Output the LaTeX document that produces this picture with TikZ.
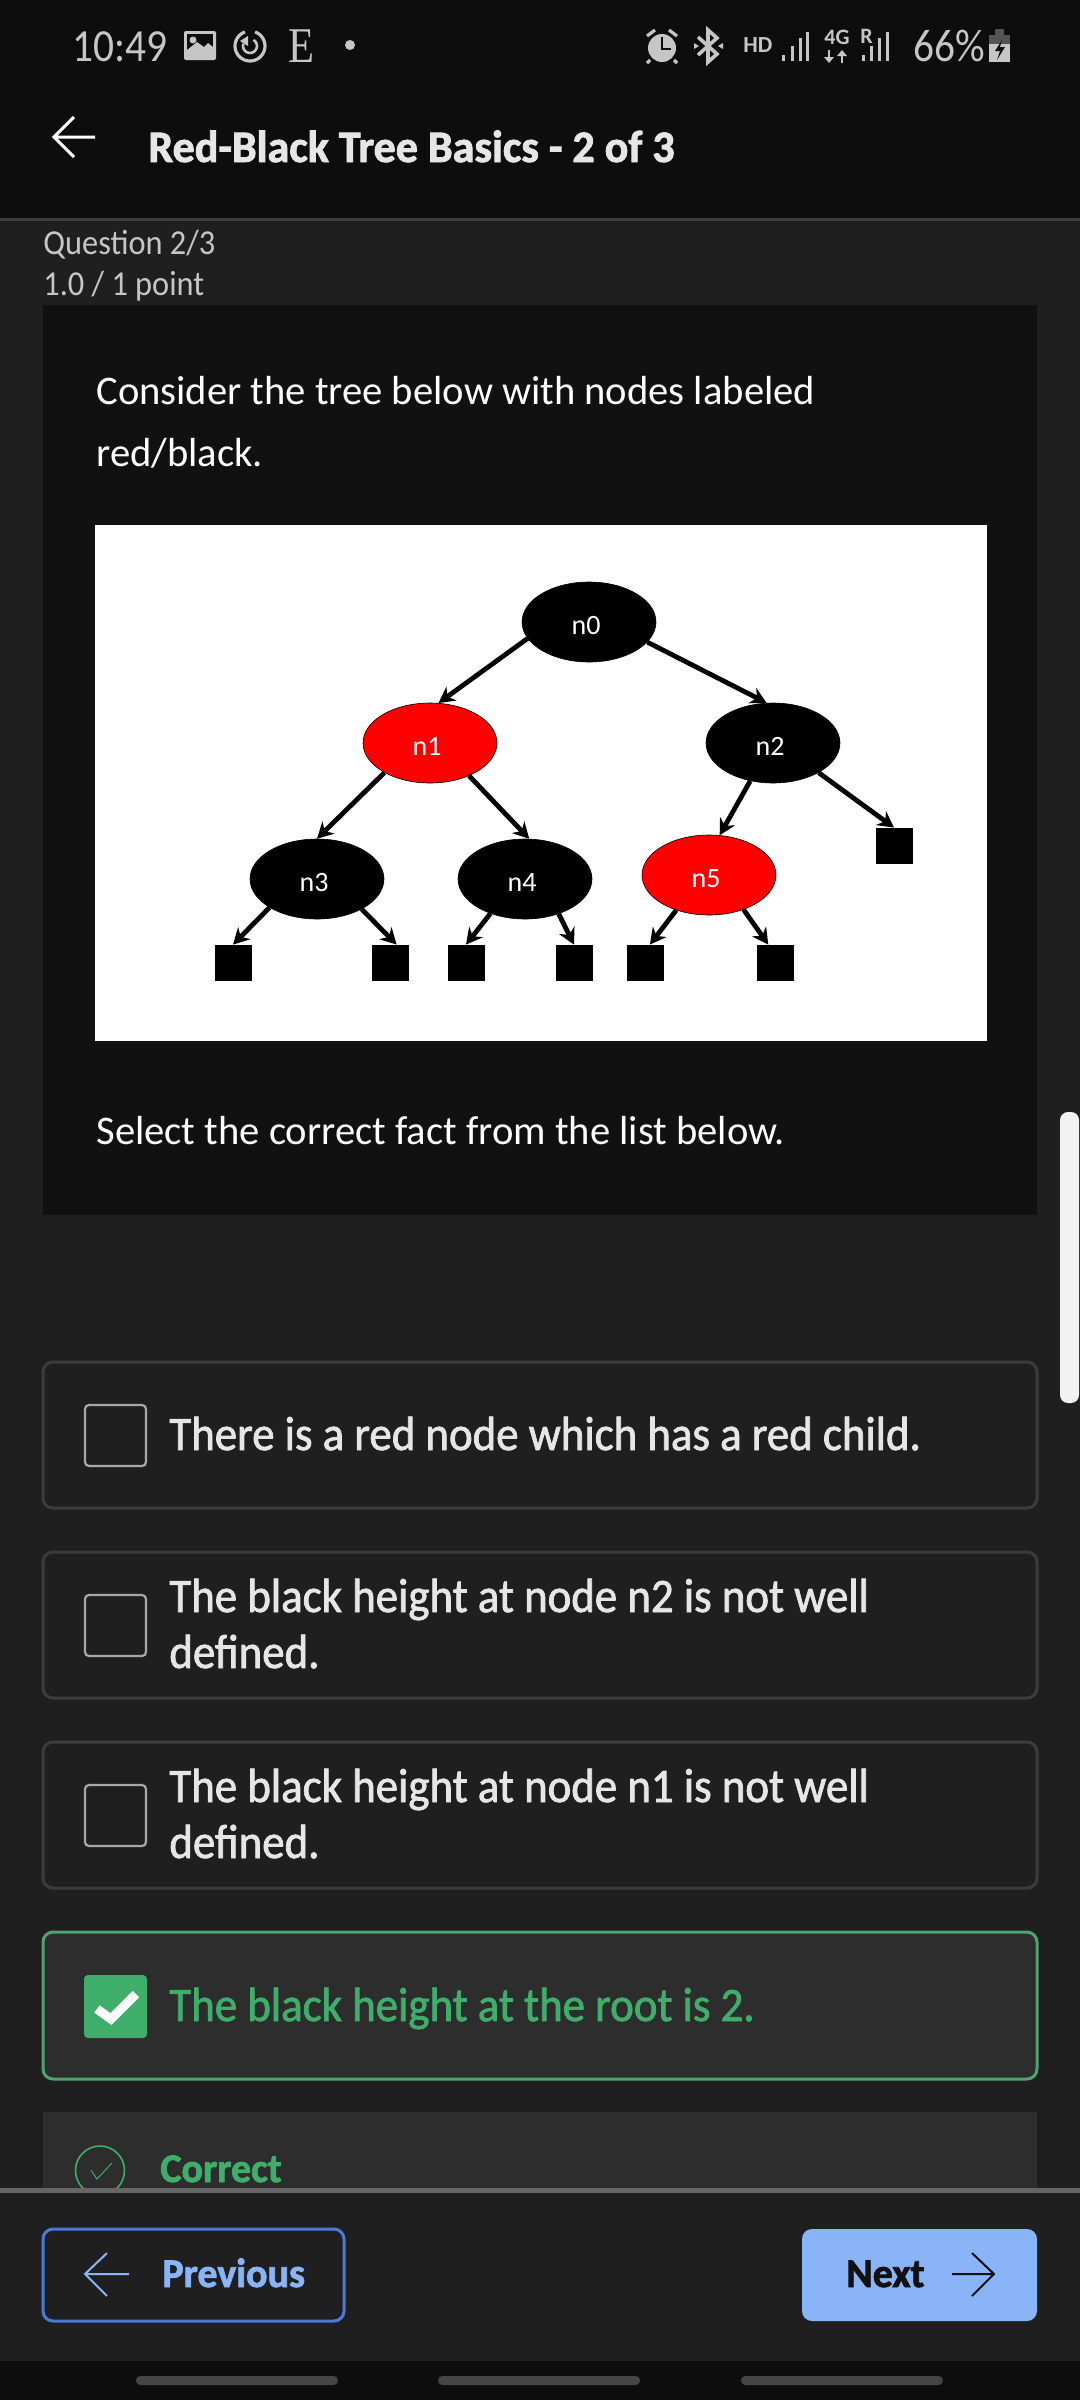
\documentclass[tikz,border=0pt]{standalone}
\usepackage{fontspec}
\setmainfont{Carlito}
\newfontfamily\serifE[FakeStretch=0.85]{Liberation Serif}
\newfontfamily\statfont[FakeStretch=0.9]{Carlito}
\newfontfamily\optfont[FakeStretch=0.935, FakeBold=1.6]{Carlito}
\newfontfamily\headfont[FakeStretch=0.98, FakeBold=1.8]{Carlito}
\newfontfamily\qfont[FakeStretch=0.925]{Carlito}
\usetikzlibrary{shapes, arrows.meta}

\definecolor{page}{HTML}{1F1F1F}
\definecolor{bar}{HTML}{0D0D0D}
\definecolor{panel}{HTML}{111111}
\definecolor{rule}{HTML}{3C3C3C}
\definecolor{card}{HTML}{2D2D2D}
\definecolor{soft}{HTML}{C6C6C6}
\definecolor{pale}{HTML}{E6E6E6}
\definecolor{okgreen}{HTML}{3FAE6B}
\definecolor{okline}{HTML}{4FA36E}
\definecolor{sky}{HTML}{8AB4F8}
\definecolor{skyline}{HTML}{4A7BDC}

\begin{document}
\begin{tikzpicture}[x=0.5pt, y=-0.5pt,
txt/.style={anchor=base west, inner sep=0pt, text=white},
status/.style={txt, text=soft},
optbox/.style={draw=#1, line width=1.5pt, rounded corners=5pt},
rbnode/.style={ellipse, draw=black, line width=.3pt, inner sep=0pt, text=white, minimum width=67pt, minimum height=40pt, text height=12pt, text depth=0pt, font=\fontsize{14}{14}\selectfont, execute at end node=\kern3pt},
leaf/.style={fill=black, inner sep=0pt, minimum width=18.5pt, minimum height=18pt},
edge/.style={-{Stealth[length=8pt,width=8.5pt]}, line width=2.4pt, black}]
\tikzstyle{opt}=[txt, text=pale, font=\fontsize{24}{24}\optfont]
\tikzstyle{body}=[txt, font=\fontsize{20.3}{20.3}\selectfont]
\tikzstyle{small}=[txt, text=soft, font=\fontsize{17.5}{17.5}\qfont]
\tikzstyle{btn}=[txt, font=\fontsize{20.4}{20.4}\headfont\bfseries]
\useasboundingbox (0,0) rectangle (1080,2400);

%Backgrounds
\fill[page] (0,0) rectangle (1080,2400);
\fill[bar] (0,0) rectangle (1080,218);
\fill[rule] (0,218) rectangle (1080,221);
\fill[panel] (43,305) rectangle (1037,1215);
\fill[white!95!black, rounded corners=4pt] (1060,1112) rectangle (1079,1403);

%Status bar, left
\node[status, font=\fontsize{23}{23}\statfont] (clock) at (72,61) {10:49};
\fill[soft, rounded corners=1pt] (184,31) rectangle (216,60);
\fill[bar] (187,34) rectangle (213,57);
\fill[soft] (187,57) -- (187,50) -- (197,42) -- (204,47) -- (208,43) -- (213,47) -- (213,57) -- cycle;
\fill[soft] (193,40) circle (3.5);
\draw[soft, line width=1.6pt] (250,46) ++(-70:15) arc[start angle=-70, end angle=250, radius=15];
\draw[soft, line width=1.3pt] (250,46) ++(-60:7) arc[start angle=-60, end angle=200, radius=7];
\fill[soft] (240,41) -- (248,36) -- (248,46) -- cycle;
\node[status, font=\fontsize{25}{25}\serifE] (letter) at (288,62) {E};
\fill[soft] (350,45) circle (5);

%Status bar, right
\fill[soft] (662,48) circle (14);
\draw[soft, line width=1.6pt] (647,36) -- (655,30) (677,36) -- (669,30) (650,60) -- (647,63) (674,60) -- (677,63);
\draw[bar, line width=1.1pt] (662,37) -- (662,49) -- (671,49);
\draw[soft, line width=1.8pt] (698,37) -- (717,54) -- (708,62) -- (708,30) -- (717,38) -- (698,55);
\fill[soft] (694,43) -- (699,46) -- (694,49) -- cycle (723,43) -- (718,46) -- (723,49) -- cycle;
\node[status, font=\fontsize{11.5}{11.5}\selectfont\bfseries] (hd) at (743,52) {HD};
\foreach \xbar/\ybar in {783/55, 792/46, 800/38, 807/32}
  \fill[soft] (\xbar-1.5,\ybar) rectangle (\xbar+1.5,61);
\node[status, font=\fontsize{11}{11}\selectfont\bfseries] (fourg) at (824,44) {4G};
\draw[soft, line width=.9pt] (829,50) -- (829,62) (842,63) -- (842,51);
\fill[soft] (824,57) -- (834,57) -- (829,63) -- cycle (837,56) -- (847,56) -- (842,50) -- cycle;
\node[status, font=\fontsize{11}{11}\selectfont\bfseries] (roam) at (860,43) {R};
\foreach \xbar/\ybar in {863/55, 871/46, 879/38, 887/32}
  \fill[soft] (\xbar-1.5,\ybar) rectangle (\xbar+1.5,61);
\node[status, font=\fontsize{23}{23}\statfont] (level) at (913,61) {66\%};
\fill[white!33!black, rounded corners=.5pt] (995,29) rectangle (1004,36);
\fill[white!33!black] (989,35) rectangle (1010,44);
\fill[soft] (989,44) rectangle (1010,62);
\fill[bar] (1002,40) -- (995,51) -- (1000,51) -- (997,60) -- (1005,47) -- (1000,47) -- cycle;

%Title
\draw[white, line width=1.5pt] (95,137) -- (55,137) (74,117) -- (54,137) -- (74,157);
\node[txt, text=pale, font=\fontsize{22.5}{22.5}\headfont\bfseries] (title) at (148,162) {Red-Black Tree Basics - 2 of 3};
\node[small] (qnum) at (43,254) {Question 2/3};
\node[small] (qpts) at (43,295) {1.0 / 1 point};

%Question
\node[body] (ask1) at (96,404) {Consider the tree below with nodes labeled};
\node[body] (ask2) at (96,466) {red/black.};
\node[body] (ask3) at (96,1144) {Select the correct fact from the list below.};

%Tree
\fill[white] (95,525) rectangle (987,1041);
\node[rbnode, fill=black] (n0) at (589,622) {n0};
\node[rbnode, fill=red] (n1) at (430,743) {n1};
\node[rbnode, fill=black] (n2) at (773,743) {n2};
\node[rbnode, fill=black] (n3) at (317,879) {n3};
\node[rbnode, fill=black] (n4) at (525,879) {n4};
\node[rbnode, fill=red] (n5) at (709,875) {n5};
\node[leaf] (l2) at (894,846) {};
\node[leaf] (l3a) at (233,963) {};
\node[leaf] (l3b) at (390,963) {};
\node[leaf] (l4a) at (466,963) {};
\node[leaf] (l4b) at (574,963) {};
\node[leaf] (l5a) at (645,963) {};
\node[leaf] (l5b) at (775,963) {};
\draw[edge] (n0.195) -- (n1.78);
\draw[edge] (n0.341) -- (n2.99);
\draw[edge] (n1.213) -- (n3.90);
\draw[edge] (n1.320) -- (n4.84);
\draw[edge] (n2.239) -- (n5.75);
\draw[edge] (n2.327) -- (l2.north);
\draw[edge] (n3.211) -- (l3a.north);
\draw[edge] (n3.326) -- (l3b.70);
\draw[edge] (n4.225) -- (l4a.north);
\draw[edge] (n4.314) -- (l4b.north);
\draw[edge] (n5.227) -- (l5a.75);
\draw[edge] (n5.315) -- (l5b.110);

%Choices
\draw[optbox=rule] (43,1362) rectangle (1037,1508);
\draw[optbox=rule] (43,1552) rectangle (1037,1698);
\draw[optbox=rule] (43,1742) rectangle (1037,1888);
\draw[optbox=okline, fill=card] (43,1932) rectangle (1037,2079);
\foreach \ybox in {1405, 1595, 1785}
  \draw[soft!85!black, line width=1.1pt, rounded corners=2pt] (85,\ybox) rectangle (146,\ybox+61);
\fill[okgreen, rounded corners=2pt] (84,1975) rectangle (147,2038);
\draw[white, line width=4.5pt] (97,2009) -- (111,2019) -- (136,1994);
\node[opt] (c1) at (169,1450) {There is a red node which has a red child.};
\node[opt] (c2) at (169,1612) {The black height at node n2 is not well};
\node[opt] (c2b) at (169,1668) {defined.};
\node[opt] (c3) at (169,1802) {The black height at node n1 is not well};
\node[opt] (c3b) at (169,1858) {defined.};
\node[opt, text=okgreen] (c4) at (169,2021) {The black height at the root is 2.};

%Feedback
\fill[card] (43,2112) rectangle (1037,2188);
\draw[okgreen, line width=.8pt] (100,2170.5) circle (24.5);
\draw[okgreen, line width=.5pt] (91,2170) -- (97,2179) -- (112,2163);
\node[btn, text=okgreen] (verdict) at (160,2182) {Correct};

%Footer
\fill[page] (0,2188) rectangle (1080,2361);
\fill[white!40!black] (0,2188) rectangle (1080,2193);
\fill[bar] (0,2361) rectangle (1080,2400);
\foreach \xpill in {136, 438, 741}
  \fill[white!27!black, rounded corners=2.2pt] (\xpill,2376) rectangle (\xpill+202,2385);
\draw[skyline, line width=1.5pt, rounded corners=5pt] (43,2229) rectangle (344,2321);
\draw[sky, line width=1pt] (129,2274) -- (85,2274) (107,2253) -- (85,2274) -- (107,2296);
\node[btn, text=sky] (prev) at (162,2287) {Previous};
\fill[sky, rounded corners=5pt] (802,2229) rectangle (1037,2321);
\node[btn, text=panel] (next) at (846,2287) {Next};
\draw[panel, line width=1pt] (952,2274) -- (994,2274) (972,2253) -- (994,2274) -- (972,2296);
\end{tikzpicture}
\end{document}
